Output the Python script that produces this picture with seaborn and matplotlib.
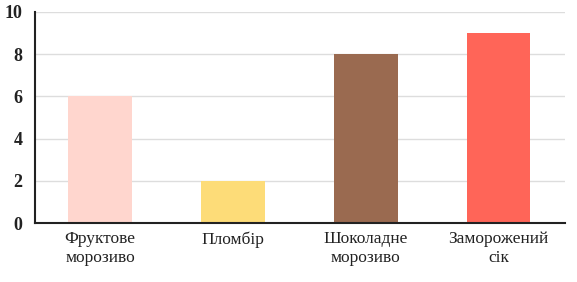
import matplotlib
matplotlib.use("Agg")
import seaborn as sns
from matplotlib import pyplot as plt
import pandas as pd

categories = ["Фруктове\nморозиво", "Пломбір", "Шоколадне\nморозиво", "Заморожений\nсік"]
values = [6, 2, 8, 9]
colors = ["#FFD6CE", "#FDDC78", "#9A6A50", "#FF6558"]

sns.set_theme(style="white")
plt.rcParams['font.family'] = ['Liberation Serif', 'DejaVu Serif']

df = pd.DataFrame({'cat': categories, 'val': values})

fig = plt.figure(figsize=(5.77, 2.82), dpi=100)
ax = fig.add_axes([35/577, 59/282, 530/577, 211/282])

sns.barplot(data=df, x='cat', y='val', hue='cat', palette=colors, width=0.48,
            legend=False, ax=ax, saturation=1, linewidth=0)

ax.set_xlim(-0.49, 3.5)
ax.set_ylim(0, 10)
ax.set_yticks([0, 2, 4, 6, 8, 10])
ax.yaxis.grid(True, color='#dddddd', linewidth=1)
ax.set_axisbelow(True)
ax.set_xlabel('')
ax.set_ylabel('')

for s in ['top', 'right']:
    ax.spines[s].set_visible(False)
for s in ['left', 'bottom']:
    ax.spines[s].set_color('#222222')
    ax.spines[s].set_linewidth(1.5)

ax.set_xticks([0.5, 1.5, 2.5, 3.5], minor=True)
ax.tick_params(axis='x', which='minor', direction='in', length=4, width=1.2, color='#222222')
ax.tick_params(axis='x', which='major', length=0, pad=6, labelsize=12.5, labelcolor='#222222')
ax.tick_params(axis='y', length=0, pad=9, labelsize=13, labelcolor='#222222')
for lab in ax.get_yticklabels():
    lab.set_fontweight('bold')

fig.savefig('out.png', dpi=100)
